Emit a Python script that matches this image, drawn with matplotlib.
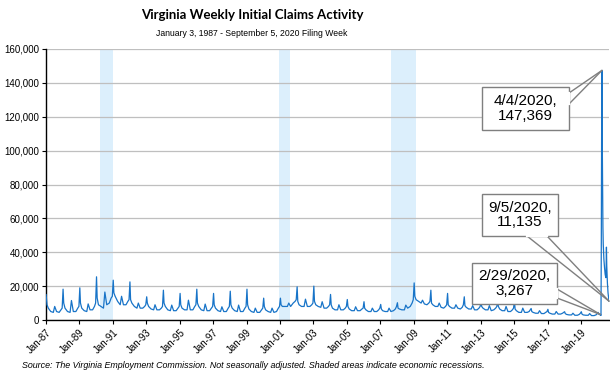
import matplotlib
matplotlib.use("Agg")
import matplotlib.pyplot as plt
import matplotlib.dates as mdates
from matplotlib.patches import Rectangle, ConnectionPatch
from matplotlib.ticker import FuncFormatter, MultipleLocator
import datetime as dt

# ---------------- data (weekly initial claims) ----------------
years = list(range(1987, 2020))
# seasonal anchor points per year (thousands of claims)
jan_peak = [15.0, 18.2, 19.0, 25.5, 23.5, 22.5, 13.7, 17.6, 15.7, 18.2, 15.7, 17.0, 18.2, 12.9, 12.9, 19.6, 20.0,
            15.1, 12.1, 10.8, 9.2, 10.2, 21.9, 17.6, 15.7, 13.7, 10.8, 11.7, 11.2, 6.8, 6.3, 4.9, 4.9]
jan_after = [9, 10, 10, 13, 16, 12, 10, 10, 9, 10, 9, 9, 9, 8, 9, 11, 11,
             9, 8, 7, 6.5, 7, 14, 10, 9, 8.5, 8, 8, 6.5, 5, 4.5, 3.8, 3.5]
feb_val = [7, 7, 7, 9, 14, 10, 8, 8, 7, 8, 7, 7, 6.5, 6, 8, 9, 9,
           7, 6.5, 6, 5.5, 6.5, 12, 9, 8, 7.5, 7, 6.5, 5.5, 4.5, 4, 3.3, 3]
apr_val = [5, 5, 5.5, 8, 11, 8, 6.5, 6, 6, 6, 5.5, 5.5, 5, 5, 8, 8, 8,
           6, 5.5, 5, 5, 6, 11, 8, 7, 6.5, 6, 5.5, 4.5, 4, 3.5, 3, 2.8]
jun_val = [4.5, 4.5, 5, 7, 9, 7, 6, 5.5, 6, 5.5, 5, 5, 4.5, 4.5, 8, 8, 7.5,
           6, 5.5, 5, 5, 6, 10, 8, 7, 6.5, 6, 5.5, 4.5, 4, 3.5, 3, 2.8]
jul_peak = [8, 11.5, 9.5, 16.5, 14, 10, 9, 8.8, 11.7, 9.4, 7.8, 8.8, 7, 7, 10, 12.3, 10.8,
            9, 7.8, 7, 7, 8.8, 11.7, 10, 9, 8.5, 8.5, 8, 7, 5.5, 5, 4, 3.8]
aug_val = [5, 5, 6, 9, 9, 7, 6, 5.5, 6, 5.5, 5, 5, 4.5, 4.5, 8, 8, 7,
           6, 5.5, 5, 5, 7, 9.5, 7.5, 7, 6, 5.5, 5, 4.5, 3.8, 3.5, 2.8, 2.6]
oct_val = [4.5, 5, 6, 10, 9, 7, 6, 5.5, 6, 5.5, 5, 5, 4.5, 5, 10, 8, 7,
           6, 5.5, 5, 5.5, 8, 9, 7, 6.5, 6, 6, 5, 4.5, 3.8, 3.5, 2.8, 2.6]
nov_val = [6, 7, 8, 13, 11, 8, 7, 7, 8, 7, 7, 7, 6, 7, 11, 9, 8,
           7, 6.5, 6, 6.5, 10, 10, 8, 7.5, 7, 7, 6, 5, 4.5, 4, 3.3, 3]
dec_val = [7, 8, 10, 14, 12, 9, 8, 8, 9, 8, 8, 8, 7, 8, 12, 10, 9,
           8, 7, 7, 8, 12, 11, 9, 9, 8, 8, 7, 6, 5, 4.5, 4, 3.6]
anchor_days = [(1, 9), (1, 23), (2, 20), (4, 15), (6, 10), (7, 10), (8, 20), (10, 15), (11, 25), (12, 20)]

dates_2020 = ["2020-01-11", "2020-01-25", "2020-02-15", "2020-02-29", "2020-03-14", "2020-03-21",
              "2020-03-28", "2020-04-04", "2020-04-11", "2020-04-18", "2020-04-25", "2020-05-02",
              "2020-05-16", "2020-05-30", "2020-06-13", "2020-06-27", "2020-07-04", "2020-07-11",
              "2020-07-18", "2020-08-01", "2020-08-15", "2020-08-29", "2020-09-05"]
claims_2020 = [4500, 3500, 3100, 3267, 2700, 46000, 112000, 147369, 105000, 80000, 55000, 45000,
               36000, 31000, 27000, 25000, 30000, 43000, 32000, 22000, 16000, 12500, 11135]

tick_years = years[::2]
recessions = [("1990-03-20", "1991-01-05"), ("2000-12-10", "2001-08-10"), ("2007-08-15", "2009-02-15")]

# ---------------- assemble series ----------------
series = [jan_peak, jan_after, feb_val, apr_val, jun_val, jul_peak, aug_val, oct_val, nov_val, dec_val]
x, y = [], []
for i, yr in enumerate(years):
    for k, (m, d) in enumerate(anchor_days):
        if yr == 1987 and k == 0:
            m, d = 1, 3
        x.append(dt.date(yr, m, d))
        y.append(series[k][i] * 1000)
for ds, v in zip(dates_2020, claims_2020):
    x.append(dt.date.fromisoformat(ds))
    y.append(v)

# ---------------- figure ----------------
W, H = 610, 373
fig = plt.figure(figsize=(W / 100, H / 100), dpi=100)
ax = fig.add_axes([46 / W, 1 - 320 / H, (609 - 46) / W, (320 - 49) / H])

for a, b in recessions:
    ax.axvspan(dt.date.fromisoformat(a), dt.date.fromisoformat(b), color="#DCEFFC", lw=0, zorder=0)

ax.plot(x, y, color="#1874C8", lw=0.9, zorder=3)

ax.set_xlim(dt.date(1987, 1, 3), dt.date(2020, 9, 5))
ax.set_ylim(0, 160000)
ax.yaxis.set_major_locator(MultipleLocator(20000))
ax.yaxis.set_major_formatter(FuncFormatter(lambda v, p: f"{int(v):,}"))
ax.grid(axis="y", color="#BFBFBF", lw=0.9, zorder=1)
ax.set_axisbelow(True)

ax.set_xticks([dt.date(yr, 1, 1) for yr in tick_years])
ax.xaxis.set_major_formatter(mdates.DateFormatter("Jan-%y"))
for lab in ax.get_xticklabels():
    lab.set_rotation(45)
    lab.set_ha("right")
    lab.set_rotation_mode("anchor")

for s in ["top", "right"]:
    ax.spines[s].set_visible(False)
for s in ["left", "bottom"]:
    ax.spines[s].set_color("black")
    ax.spines[s].set_linewidth(1.0)
ax.tick_params(axis="both", labelsize=7, length=3, width=0.8, color="black", pad=2)
for lab in ax.get_xticklabels() + ax.get_yticklabels():
    lab.set_fontfamily("Liberation Sans")

# titles
fig.text(252 / W, 1 - 15 / H, "Virginia Weekly Initial Claims Activity", ha="center", va="center",
         fontsize=9.5, fontweight="bold", family="Lato")
fig.text(252 / W, 1 - 33 / H, "January 3, 1987 - September 5, 2020 Filing Week", ha="center", va="center",
         fontsize=6.2, family="Liberation Sans")
fig.text(22 / W, 1 - 365 / H,
         "Source: The Virginia Employment Commission. Not seasonally adjusted. Shaded areas indicate economic recessions.",
         ha="left", va="center", fontsize=6.4, style="italic", family="Liberation Sans")


# ---------------- callouts ----------------
def callout(text, box, p1, p2, target):
    x0, y0, x1, y1 = box
    rect = Rectangle((x0 / W, 1 - y1 / H), (x1 - x0) / W, (y1 - y0) / H, transform=fig.transFigure,
                     facecolor="white", edgecolor="#7F7F7F", lw=1.0, zorder=5)
    fig.patches.append(rect)
    fig.text((x0 + x1) / 2 / W, 1 - (y0 + y1) / 2 / H, text, ha="center", va="center", fontsize=11,
             family="Liberation Sans", linespacing=1.05, zorder=6)
    # cover the border gap
    fig.lines.append(plt.Line2D([p1[0] / W, p2[0] / W], [1 - p1[1] / H, 1 - p2[1] / H],
                                transform=fig.transFigure, color="white", lw=1.6, zorder=5.5))
    tx = (mdates.date2num(target[0]), target[1])
    for p in (p1, p2):
        con = ConnectionPatch(xyA=(p[0] / W, 1 - p[1] / H), coordsA=fig.transFigure,
                              xyB=tx, coordsB=ax.transData, color="#7F7F7F", lw=1.0, zorder=5)
        fig.add_artist(con)


callout("4/4/2020,\n147,369", (482, 87, 569, 130), (569, 93), (569, 104), (dt.date(2020, 4, 4), 147369))
callout("9/5/2020,\n11,135", (482, 194, 558, 236), (527, 236), (547, 236), (dt.date(2020, 9, 5), 11135))
callout("2/29/2020,\n3,267", (472, 263, 557, 304), (557, 289), (557, 298), (dt.date(2020, 2, 29), 3267))

fig.savefig("out.png", dpi=100)
